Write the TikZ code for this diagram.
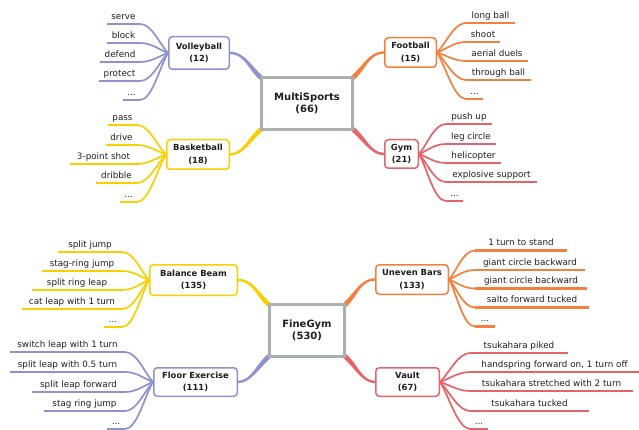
\documentclass[tikz,border=0pt]{standalone}
\usepackage{fontspec}
\setmainfont{DejaVu Sans}
\usetikzlibrary{calc}
\definecolor{cpur}{HTML}{8E92CE}
\definecolor{cyel}{HTML}{F8CF00}
\definecolor{cora}{HTML}{F4803E}
\definecolor{cred}{HTML}{E4646A}
\definecolor{cgry}{HTML}{A9B1AF}
\definecolor{ctxt}{HTML}{1E1E1E}
\pgfdeclarelayer{bg}
\pgfsetlayers{bg,main}
\newcommand\threedots{...}
% tapered connector: #1 colour, #2 start anchor, #3 end coordinate,
% #4 start control x, #5/#6 end control offset, #7/#8 half-width offset at end (upper side)
\newcommand\tconn[8]{%
  \fill[#1] ($(#2)+(0,-1.2)$) .. controls ($(#2)+(#4,-1.2)$) and ($(#3)+(#7,#8)+(#5,#6)$) .. ($(#3)+(#7,#8)$)
    -- ($(#3)-(#7,#8)$) .. controls ($(#3)-(#7,#8)+(#5,#6)$) and ($(#2)+(#4,1.2)$) .. ($(#2)+(0,1.2)$) -- cycle;}
\begin{document}
\begin{tikzpicture}[x=1pt,y=-1pt,
  mainbox/.style={draw=cgry, line width=3pt, fill=white, font=\fontsize{10}{12.5}\selectfont\bfseries, align=center, text=ctxt, inner sep=0pt},
  catbox/.style={draw=#1, line width=1.5pt, fill=white, rounded corners=3.5pt, font=\fontsize{8.4}{12.3}\selectfont\bfseries, align=center, text=ctxt, inner sep=0pt},
  leaf/.style={font=\fontsize{8.8}{10}\selectfont, text=ctxt, inner xsep=0pt, inner ysep=2.8pt, text height=6.5pt, text depth=2pt, outer sep=0pt},
  ul/.style={draw=#1, line width=2.4pt},
  br/.style={draw=#1, line width=1.7pt},
]
\useasboundingbox (0,0) rectangle (639,430);

% main boxes
\node[mainbox, minimum width=91pt, minimum height=52pt] (ms) at (307,103.5) {MultiSports\\(66)};
\node[mainbox, minimum width=75pt, minimum height=52pt] (fg) at (307,330.5) {FineGym\\(530)};

% category boxes
\node[catbox=cpur, minimum width=60.5pt, minimum height=32.5pt] (vb) at (199,53) {Volleyball\\(12)};
\node[catbox=cyel, minimum width=62.5pt, minimum height=29.5pt] (bb) at (198,154.5) {Basketball\\(18)};
\node[catbox=cora, minimum width=51.5pt, minimum height=29.5pt] (fb) at (410.5,52.5) {Football\\(15)};
\node[catbox=cred, minimum width=33.5pt, minimum height=28.5pt] (gy) at (401.5,154) {Gym\\(21)};
\node[catbox=cyel, minimum width=87.5pt, minimum height=30.5pt] (be) at (193.5,280) {Balance Beam\\(135)};
\node[catbox=cpur, minimum width=83.5pt, minimum height=28.5pt] (fe) at (195.5,382) {Floor Exercise\\(111)};
\node[catbox=cora, minimum width=72.5pt, minimum height=29.5pt] (ub) at (412,279.5) {Uneven Bars\\(133)};
\node[catbox=cred, minimum width=63.5pt, minimum height=28.5pt] (va) at (407.5,382) {Vault\\(67)};

% corner coordinates of main boxes
\coordinate (msnw) at ($(ms.north west)+(4,4)$);
\coordinate (msne) at ($(ms.north east)+(-4,4)$);
\coordinate (mssw) at ($(ms.south west)+(4,-4)$);
\coordinate (msse) at ($(ms.south east)+(-4,-4)$);
\coordinate (fgnw) at ($(fg.north west)+(4,4)$);
\coordinate (fgne) at ($(fg.north east)+(-4,4)$);
\coordinate (fgsw) at ($(fg.south west)+(4,-4)$);
\coordinate (fgse) at ($(fg.south east)+(-4,-4)$);

\begin{pgfonlayer}{bg}
\tconn{cpur}{vb.east}{msnw}{16}{-14}{-10}{1.7}{-1.7}
\tconn{cyel}{bb.east}{mssw}{14}{-14}{10}{-1.7}{-1.7}
\tconn{cora}{fb.west}{msne}{-16}{14}{-10}{-1.7}{-1.7}
\tconn{cred}{gy.west}{msse}{-14}{14}{10}{1.7}{-1.7}
\tconn{cyel}{be.east}{fgnw}{16}{-14}{-10}{1.7}{-1.7}
\tconn{cpur}{fe.east}{fgsw}{14}{-14}{10}{-1.7}{-1.7}
\tconn{cora}{ub.west}{fgne}{-16}{14}{-10}{-1.7}{-1.7}
\tconn{cred}{va.west}{fgse}{-14}{14}{10}{1.7}{-1.7}
\end{pgfonlayer}

% left-side leaves
\foreach \nm/\yy/\len/\txt in {v1/24/33/serve, v2/43/33/block, v3/62/40/defend, v4/81/41/protect, v5/100/17/\threedots}{
  \node[leaf, minimum width=\len pt, anchor=south east] (\nm) at (140,\yy) {\txt};
  \draw[ul=cpur] (\nm.south west) -- (\nm.south east);
  \begin{pgfonlayer}{bg}
  \draw[br=cpur] (vb.west) .. controls ($(vb.west)!0.3!(\nm.south east)$) and ($(\nm.south east)+(12,0)$) .. (\nm.south east);
  \end{pgfonlayer}
}
\foreach \nm/\yy/\len/\txt in {b1/125/29/pass, b2/145/31/drive, b3/164/67/3-point shot, b4/183/41/dribble, b5/202/17/\threedots}{
  \node[leaf, minimum width=\len pt, anchor=south east] (\nm) at (137,\yy) {\txt};
  \draw[ul=cyel] (\nm.south west) -- (\nm.south east);
  \begin{pgfonlayer}{bg}
  \draw[br=cyel] (bb.west) .. controls ($(bb.west)!0.3!(\nm.south east)$) and ($(\nm.south east)+(12,0)$) .. (\nm.south east);
  \end{pgfonlayer}
}
\foreach \nm/\yy/\len/\txt in {e1/252/64/split jump, e2/271/80/stag-ring jump, e3/290/90/split ring leap, e4/309/100/cat leap with 1 turn, e5/327/18/\threedots}{
  \node[leaf, minimum width=\len pt, anchor=south east] (\nm) at (122,\yy) {\txt};
  \draw[ul=cyel] (\nm.south west) -- (\nm.south east);
  \begin{pgfonlayer}{bg}
  \draw[br=cyel] (be.west) .. controls ($(be.west)!0.3!(\nm.south east)$) and ($(\nm.south east)+(12,0)$) .. (\nm.south east);
  \end{pgfonlayer}
}
\foreach \nm/\yy/\len/\txt in {f1/352/115/switch leap with 1 turn, f2/372/115/split leap with 0.5 turn, f3/392/93/split leap forward, f4/411/81/stag ring jump, f5/429/18/\threedots}{
  \node[leaf, minimum width=\len pt, anchor=south east] (\nm) at (125,\yy) {\txt};
  \draw[ul=cpur] (\nm.south west) -- (\nm.south east);
  \begin{pgfonlayer}{bg}
  \draw[br=cpur] (fe.west) .. controls ($(fe.west)!0.3!(\nm.south east)$) and ($(\nm.south east)+(12,0)$) .. (\nm.south east);
  \end{pgfonlayer}
}

% right-side leaves
\foreach \nm/\yy/\len/\txt in {o1/23/49/long ball, o2/42/34/shoot, o3/61/62/aerial duels, o4/80/65/through ball, o5/99/17/\threedots}{
  \node[leaf, minimum width=\len pt, anchor=south west] (\nm) at (466,\yy) {\txt};
  \draw[ul=cora] (\nm.south west) -- (\nm.south east);
  \begin{pgfonlayer}{bg}
  \draw[br=cora] (fb.east) .. controls ($(fb.east)!0.3!(\nm.south west)$) and ($(\nm.south west)+(-12,0)$) .. (\nm.south west);
  \end{pgfonlayer}
}
\foreach \nm/\yy/\len/\txt in {g1/124/46/push up, g2/144/50/leg circle, g3/163/55/helicopter, g4/182/91/explosive support, g5/201/17/\threedots}{
  \node[leaf, minimum width=\len pt, anchor=south west] (\nm) at (446,\yy) {\txt};
  \draw[ul=cred] (\nm.south west) -- (\nm.south east);
  \begin{pgfonlayer}{bg}
  \draw[br=cred] (gy.east) .. controls ($(gy.east)!0.3!(\nm.south west)$) and ($(\nm.south west)+(-12,0)$) .. (\nm.south west);
  \end{pgfonlayer}
}
\foreach \nm/\yy/\len/\txt in {u1/250.5/92/1 turn to stand, u2/270/110/giant circle backward, u3/288.5/112/giant circle backward, u4/307.5/114/salto forward tucked, u5/326.5/20/\threedots}{
  \node[leaf, minimum width=\len pt, anchor=south west] (\nm) at (475,\yy) {\txt};
  \draw[ul=cora] (\nm.south west) -- (\nm.south east);
  \begin{pgfonlayer}{bg}
  \draw[br=cora] (ub.east) .. controls ($(ub.east)!0.3!(\nm.south west)$) and ($(\nm.south west)+(-12,0)$) .. (\nm.south west);
  \end{pgfonlayer}
}
\foreach \nm/\yy/\len/\txt in {a1/353/98/tsukahara piked, a2/372/169/{handspring forward on, 1 turn off}, a3/391/163/tsukahara stretched with 2 turn, a4/411/119/tsukahara tucked, a5/429/18/\threedots}{
  \node[leaf, minimum width=\len pt, anchor=south west] (\nm) at (470,\yy) {\txt};
  \draw[ul=cred] (\nm.south west) -- (\nm.south east);
  \begin{pgfonlayer}{bg}
  \draw[br=cred] (va.east) .. controls ($(va.east)!0.3!(\nm.south west)$) and ($(\nm.south west)+(-12,0)$) .. (\nm.south west);
  \end{pgfonlayer}
}
\end{tikzpicture}
\end{document}
